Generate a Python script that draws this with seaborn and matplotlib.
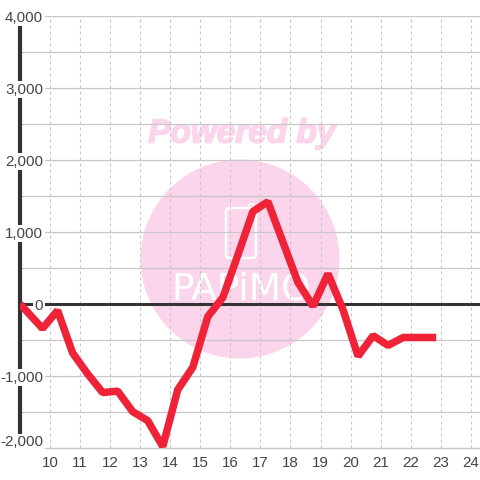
import matplotlib
matplotlib.use("Agg")
import matplotlib.pyplot as plt
import matplotlib.patheffects as pe
from matplotlib.patches import Circle, FancyBboxPatch
import seaborn as sns
import pandas as pd

hours = [9.0, 9.75, 10.25, 10.75, 11.25, 11.75, 12.25, 12.75, 13.25, 13.75, 14.25, 14.75,
         15.25, 15.75, 16.25, 16.75, 17.25, 17.75, 18.25, 18.75, 19.25, 19.75, 20.25,
         20.75, 21.25, 21.75, 22.25, 22.85]
values = [0, -340, -90, -680, -970, -1230, -1210, -1495, -1620, -1980, -1190, -880,
          -175, 90, 680, 1285, 1420, 860, 300, -30, 420, -80, -725,
          -440, -575, -465, -465, -465]
x_ticks = list(range(10, 25))
y_major = [-2000, -1000, 0, 1000, 2000, 3000, 4000]
y_minor = [-1500, -500, 500, 1500, 2500, 3500]

sns.set_theme(style="white")
plt.rcParams["font.family"] = ["Liberation Sans", "DejaVu Sans"]

PINK = "#fbd5ec"
GRID = "#c8c8c8"
DARK = "#333333"
TEXT = "#444444"

fig = plt.figure(figsize=(4.8, 4.8), dpi=100, facecolor="white")
W = 480.0
def fx(p): return p / W
def fy(p): return 1 - p / W

# watermark sits under the (transparent) axes
fig.patches.append(Circle((fx(240), fy(259)), 99.5 / W, transform=fig.transFigure,
                          facecolor=PINK, edgecolor="none", zorder=0))
fig.patches.append(FancyBboxPatch((fx(226), fy(258)), 30 / W, 50 / W,
                                  boxstyle="round,pad=0,rounding_size=0.008",
                                  transform=fig.transFigure, facecolor="none",
                                  edgecolor="white", linewidth=1.8, zorder=1))
fig.patches.append(FancyBboxPatch((fx(249), fy(208)), 5 / W, 4 / W,
                                  boxstyle="round,pad=0,rounding_size=0.003",
                                  transform=fig.transFigure, facecolor="none",
                                  edgecolor="white", linewidth=1.2, zorder=1))
fig.text(fx(242), fy(134), "Powered by", color=PINK, fontsize=24, fontweight="bold",
         fontstyle="italic", ha="center", va="center", family=["Liberation Sans"], zorder=1,
         path_effects=[pe.withStroke(linewidth=1.2, foreground=PINK)])
fig.text(fx(241), fy(289), "PAPiMO", color="white", fontsize=27, ha="center", va="center",
         family=["DejaVu Sans"], zorder=1)

ax = fig.add_axes([fx(20), fy(448), (480 - 20) / W, (448 - 16) / W], zorder=5)
ax.patch.set_alpha(0)
df = pd.DataFrame({"hour": hours, "value": values})

for s in ["top", "right"]:
    ax.spines[s].set_visible(False)
ax.spines["left"].set_color(DARK)
ax.spines["left"].set_linewidth(3)
ax.spines["left"].set_zorder(2)
ax.spines["bottom"].set_color(GRID)
ax.spines["bottom"].set_linewidth(0.9)

ax.set_xlim(9, 9 + 460 / 30.05)
ax.set_ylim(-2000, 4000)
ax.set_xticks(x_ticks)
ax.set_yticks(y_major)
ax.set_yticks(y_minor, minor=True)
ax.grid(True, axis="y", which="both", color=GRID, linewidth=0.9, zorder=1)
ax.grid(True, axis="x", which="major", color=GRID, linewidth=0.8, linestyle=(0, (2.7, 2.7)), zorder=1)
ax.set_axisbelow(True)
ax.axhline(0, color=DARK, linewidth=2.2, zorder=2)

sns.lineplot(data=df, x="hour", y="value", ax=ax, color="#f02238", linewidth=5.4,
             zorder=4, errorbar=None, solid_joinstyle="bevel", solid_capstyle="butt")
ax.set_xlabel("")
ax.set_ylabel("")

ax.tick_params(axis="both", which="both", length=0)
ax.tick_params(axis="x", labelsize=10.9, labelcolor=TEXT, pad=5.5)
ax.set_yticklabels([])

PX = 0.72
for v in y_major:
    off = 7 * PX if v == -2000 else 0
    ax.annotate(f"{v:,}", xy=(9, v), xycoords="data", xytext=(23 * PX, off),
                textcoords="offset points", ha="right", va="center_baseline", fontsize=10.9, color=TEXT,
                zorder=3, annotation_clip=False,
                bbox=dict(facecolor="white", edgecolor="none", pad=1.2))

fig.savefig("out.png", dpi=100)
